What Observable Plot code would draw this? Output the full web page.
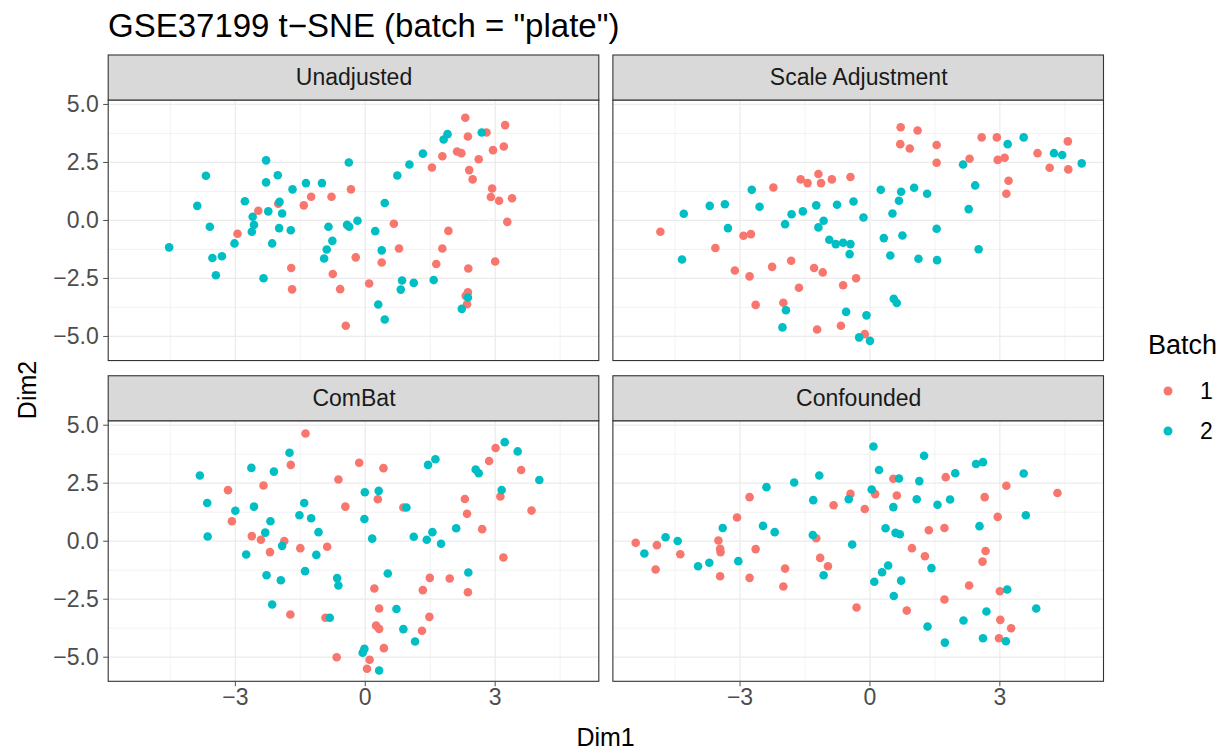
<!DOCTYPE html>
<html><head><meta charset="utf-8">
<script src="https://cdn.jsdelivr.net/npm/d3@7"></script>
<script src="https://cdn.jsdelivr.net/npm/@observablehq/plot@0.6"></script>
<style>
body{margin:0;background:#fff;}
#chart{width:1228px;height:752px;}
</style></head><body><div id="chart"></div>
<script>
// ---- categories / ticks ----
const panels = ["Unadjusted", "Scale Adjustment", "ComBat", "Confounded"];
const batches = ["1", "2"];
const batchColors = ["#F8766D", "#00BFC4"];
const xTicks = [-3, 0, 3];
const xMinor = [-4.5, -1.5, 1.5, 4.5];
const yTicks = [-5, -2.5, 0, 2.5, 5];
const yMinor = [-3.75, -1.25, 1.25, 3.75];

// ---- series values: [Dim1, Dim2] ----
const unadjusted1 = [[-0.33,1.34],[-1.25,1.02],[-0.78,1.02],[-1.42,0.65],[-2.47,0.42],[-2.01,0.72],[-2.95,-0.57],[-1.71,-2.05],[-0.75,-2.31],[-1.69,-2.97],[-0.58,-2.96],[-0.45,-4.54],
 [2.31,4.43],[3.23,4.11],[2.80,3.79],[2.37,3.62],[3.20,3.19],[2.95,3.03],[2.12,2.97],[2.22,2.90],[1.78,2.77],[2.62,2.64],[1.54,2.28],[2.40,2.17],[2.48,1.77],[2.93,1.38],[2.90,1.01],[3.09,0.85],[3.39,0.96],[0.66,-0.14],[3.28,-0.06],[1.92,-0.45],[0.78,-1.21],[1.78,-1.21],[-0.22,-1.59],[0.38,-1.81],[1.64,-1.88],[3.00,-1.77],[2.38,-2.07],[0.09,-2.72],[2.37,-3.10],[2.32,-3.25],[2.35,-3.61]];
const unadjusted2 = [[-2.29,2.59],[-0.38,2.50],[-3.68,1.93],[-2.02,1.95],[-2.29,1.64],[-1.68,1.34],[-1.37,1.61],[-1.00,1.61],[-3.88,0.63],[-2.78,0.83],[-1.98,0.80],[-2.24,0.39],[-1.92,0.30],[-2.60,0.16],[-2.57,-0.19],[-2.62,-0.49],[-3.59,-0.27],[-1.99,-0.33],[-1.72,-0.42],[-0.85,-0.27],[-0.42,-0.19],[-0.37,-0.27],[-3.02,-0.99],[-2.15,-0.99],[-0.76,-0.88],[-0.89,-1.25],[-0.95,-1.64],[-4.53,-1.16],[-3.53,-1.62],[-3.31,-1.54],[-3.45,-2.36],[-2.35,-2.49],
 [2.69,3.79],[1.81,3.49],[1.90,3.72],[1.33,2.88],[1.02,2.41],[0.74,1.94],[0.45,0.75],[-0.18,-0.01],[0.23,-0.46],[0.38,-1.29],[0.85,-2.59],[0.82,-2.98],[1.12,-2.69],[1.58,-2.57],[2.37,-3.32],[2.23,-3.81],[0.30,-3.62],[0.45,-4.27]];

const scaleAdj1 = [[-1.19,2.00],[-1.60,1.77],[-1.44,1.61],[-1.13,1.61],[-0.88,1.77],[-0.45,1.87],[-2.23,1.42],[-4.84,-0.49],[-2.92,-0.66],[-2.75,-0.59],[-3.57,-1.19],[-1.82,-1.74],[-2.26,-2.00],[-3.12,-2.16],[-1.29,-2.05],[-1.09,-2.24],[-2.78,-2.41],[-0.32,-2.49],[-0.62,-2.79],[-1.64,-2.90],[-2.64,-3.64],[-2.00,-3.55],[-1.22,-4.70],[-0.67,-4.54],
 [0.71,4.02],[1.10,3.88],[0.70,3.29],[0.92,3.10],[1.54,3.25],[1.54,2.49],[2.58,3.58],[2.93,3.58],[4.57,3.41],[3.87,2.90],[4.15,2.27],[4.58,2.20],[2.30,2.66],[2.95,2.61],[3.11,2.70],[3.20,1.71],[3.15,1.15],[-0.12,-4.90]];
const scaleAdj2 = [[-2.73,1.32],[-3.70,0.63],[-3.35,0.70],[-2.55,0.59],[-4.30,0.29],[-1.81,0.27],[-1.55,0.39],[-1.24,0.65],[-0.76,0.68],[-0.38,0.82],[-1.96,-0.16],[-1.07,-0.01],[-1.19,-0.30],[-3.28,-0.33],[-0.94,-0.83],[-0.79,-1.02],[-0.62,-0.96],[-0.45,-1.02],[-0.47,-1.45],[-4.34,-1.68],[-1.94,-3.87],[-0.55,-3.94],[-2.02,-4.61],
 [3.18,3.29],[3.55,3.58],[4.25,2.90],[4.44,2.82],[4.89,2.46],[2.15,2.41],[2.43,1.51],[2.28,0.49],[0.25,1.32],[0.72,1.24],[1.02,1.41],[1.32,1.15],[0.67,0.85],[-0.15,0.13],[0.52,0.30],[1.54,-0.36],[0.32,-0.76],[0.75,-0.65],[0.47,-1.51],[1.12,-1.65],[1.55,-1.71],[2.51,-1.24],[0.55,-3.38],[0.62,-3.56],[-0.08,-4.09],[-0.25,-5.04],[0.00,-5.19]];

const combat1 = [[-1.38,4.64],[-1.72,3.29],[-2.35,2.40],[-3.17,2.20],[-0.62,2.66],[-0.46,1.49],[-3.08,0.86],[-2.62,0.22],[-2.41,0.06],[-1.87,0.01],[-1.50,-0.30],[-0.88,-0.24],[-2.20,-0.47],[-1.73,-3.16],[-0.92,-3.30],[-0.66,-5.00],
 [-0.14,3.38],[0.42,3.15],[3.01,4.02],[2.86,3.46],[3.60,3.07],[0.29,1.81],[3.12,1.93],[2.30,1.82],[0.88,1.45],[2.35,1.18],[3.84,1.32],[2.70,0.52],[3.19,-0.70],[1.49,-1.58],[1.95,-1.61],[0.21,-2.04],[1.33,-2.11],[2.37,-2.20],[0.32,-2.90],[1.48,-3.26],[0.25,-3.64],[0.32,-3.78],[1.31,-3.86],[0.43,-4.61],[0.10,-5.11],[0.04,-5.50]];
const combat2 = [[-1.75,3.81],[-2.63,3.16],[-2.11,3.00],[-3.82,2.83],[-3.65,1.65],[-3.00,1.31],[-2.57,1.49],[-1.41,1.65],[-1.52,1.12],[-1.25,0.99],[-2.19,0.86],[-2.31,0.37],[-1.08,0.39],[-3.64,0.20],[-1.92,-0.20],[-2.75,-0.57],[-1.13,-0.59],[-1.39,-1.29],[-2.28,-1.47],[-1.95,-1.68],[-0.65,-1.59],[-0.62,-1.91],[-2.15,-2.73],[-0.82,-3.30],
 [1.45,3.29],[1.62,3.53],[3.22,4.27],[3.52,3.87],[2.55,3.09],[2.62,2.93],[4.02,2.64],[-0.01,2.11],[0.31,2.17],[3.15,2.21],[0.95,1.45],[-0.02,0.96],[2.10,0.56],[0.16,0.11],[1.12,0.19],[1.42,0.06],[1.55,0.39],[1.75,-0.11],[0.52,-1.39],[2.38,-1.35],[0.72,-2.92],[0.88,-3.79],[1.15,-4.32],[-0.02,-4.64],[-0.06,-4.81],[0.32,-5.57]];

const confounded1 = [[-2.78,1.90],[-0.84,1.55],[-0.45,2.04],[-3.07,1.02],[-5.41,-0.07],[-4.92,-0.17],[-4.38,-0.56],[-3.50,0.03],[-3.46,-0.33],[-3.45,-0.47],[-1.24,0.13],[-2.64,-0.34],[-1.15,-0.72],[-0.97,-1.08],[-4.95,-1.22],[-3.46,-1.51],[-2.78,-1.58],[-1.96,-1.18],[-2.00,-1.95],[-0.31,-2.86],
 [0.54,2.69],[1.75,2.76],[3.15,2.39],[4.33,2.08],[0.12,2.03],[-0.12,1.39],[0.62,1.97],[2.65,1.90],[2.95,1.05],[1.36,0.47],[1.72,0.57],[0.97,-0.30],[1.27,-0.65],[2.67,-0.42],[2.60,-0.88],[2.29,-1.91],[3.00,-2.16],[0.85,-2.99],[1.72,-2.51],[3.01,-3.39],[3.26,-3.75],[2.98,-4.18]];
const confounded2 = [[-1.17,2.83],[-1.75,2.53],[-2.39,2.33],[-1.31,1.77],[-0.49,1.81],[-3.40,0.57],[-2.47,0.66],[-2.20,0.39],[-4.72,0.17],[-4.44,0.01],[-5.21,-0.53],[-1.32,0.27],[-0.41,-0.14],[-3.04,-0.86],[-3.97,-1.08],[-3.71,-0.93],[-1.07,-1.47],
 [0.08,4.08],[1.25,3.68],[0.21,3.07],[0.67,2.70],[1.14,2.59],[1.97,2.93],[2.45,3.33],[2.61,3.41],[3.55,2.92],[0.04,2.23],[1.08,1.81],[1.56,1.57],[1.85,1.80],[0.54,1.47],[3.60,1.12],[0.36,0.56],[0.59,0.36],[0.69,0.30],[2.53,0.65],[1.42,-1.16],[0.42,-1.05],[0.28,-1.34],[0.10,-1.75],[0.72,-1.70],[0.55,-2.36],[3.17,-2.08],[2.69,-3.03],[3.84,-2.90],[2.16,-3.42],[1.33,-3.68],[1.73,-4.37],[2.61,-4.18],[3.14,-4.31]];

// ---- build table ----
const series = [
  [panels[0], batches[0], unadjusted1], [panels[1], batches[0], scaleAdj1],
  [panels[2], batches[0], combat1],     [panels[3], batches[0], confounded1],
  [panels[0], batches[1], unadjusted2], [panels[1], batches[1], scaleAdj2],
  [panels[2], batches[1], combat2],     [panels[3], batches[1], confounded2]
];
const rows = [];
for (const [panel, batch, pts] of series) {
  const i = panels.indexOf(panel);
  for (const [x, y] of pts) rows.push({panel, batch, col: i % 2, row: Math.floor(i / 2), x, y});
}
const strips = panels.map((p, i) => ({panel: p, col: i % 2, row: Math.floor(i / 2)}));

// ggplot-like expanded limits
const xDomain = [-5.925, 5.405];
const yDomain = [-6.06, 5.17];
const stripTop = 7.11;
const font = "'Liberation Sans', Arial, Helvetica, sans-serif";

const plot = Plot.plot({
  width: 1228, height: 752,
  marginLeft: 108.2, marginRight: 124.5, marginTop: 55, marginBottom: 70.7,
  style: {fontFamily: font, background: "white", overflow: "visible"},
  x: {domain: xDomain, label: null},
  y: {domain: [yDomain[0], stripTop], label: null},
  fx: {domain: [0, 1], paddingInner: 0.0279, paddingOuter: 0, round: false, axis: null},
  fy: {domain: [0, 1], paddingInner: 0.0474, paddingOuter: 0, round: false, axis: null},
  color: {domain: batches, range: batchColors},
  marks: [
    Plot.ruleY(yMinor, {y: d => d, x1: xDomain[0], x2: xDomain[1], stroke: "#EBEBEB", strokeWidth: 0.6}),
    Plot.ruleX(xMinor, {x: d => d, y1: yDomain[0], y2: yDomain[1], stroke: "#EBEBEB", strokeWidth: 0.6}),
    Plot.ruleY(yTicks, {y: d => d, x1: xDomain[0], x2: xDomain[1], stroke: "#EBEBEB", strokeWidth: 1.2}),
    Plot.ruleX(xTicks, {x: d => d, y1: yDomain[0], y2: yDomain[1], stroke: "#EBEBEB", strokeWidth: 1.2}),
    Plot.dot(rows, {fx: "col", fy: "row", x: "x", y: "y", fill: "batch", r: 4.3}),
    Plot.rect([0], {x1: xDomain[0], x2: xDomain[1], y1: yDomain[0], y2: yDomain[1], fill: "none", stroke: "#333333", strokeWidth: 1.1}),
    Plot.rect([0], {x1: xDomain[0], x2: xDomain[1], y1: yDomain[1], y2: stripTop, fill: "#D9D9D9", stroke: "#333333", strokeWidth: 1.1}),
    Plot.text(strips, {fx: "col", fy: "row", x: (xDomain[0] + xDomain[1]) / 2, y: (yDomain[1] + stripTop) / 2, text: "panel", fontSize: 23, fill: "#1A1A1A"}),
    Plot.axisY(yTicks, {anchor: "left", tickSize: 5, tickPadding: 5, fontSize: 23, color: "#4D4D4D", tickFormat: d3.format(".1f")}),
    Plot.axisX(xTicks, {anchor: "bottom", tickSize: 5, tickPadding: 2, fontSize: 23, color: "#4D4D4D", tickFormat: d3.format("d")})
  ]
});

// titles and legend as real text in the SVG
const svg = d3.select(plot);
svg.append("text").attr("x", 108).attr("y", 37).attr("text-anchor", "start").attr("font-size", 33).attr("fill", "#000")
  .attr("font-family", font).text('GSE37199 t\u2212SNE (batch = "plate")');
svg.append("text").attr("x", 605.6).attr("y", 746).attr("text-anchor", "middle").attr("font-size", 25)
  .attr("fill", "#000").attr("font-family", font).text("Dim1");
svg.append("text").attr("transform", "translate(36,390) rotate(-90)").attr("text-anchor", "middle")
  .attr("font-size", 25).attr("fill", "#000").attr("font-family", font).text("Dim2");
const color = plot.scale("color");
const lg = svg.append("g").attr("font-family", font).attr("text-anchor", "start");
lg.append("text").attr("x", 1148).attr("y", 354).attr("font-size", 27).attr("fill", "#000").text("Batch");
batches.forEach((b, i) => {
  const cy = 391 + i * 40;
  lg.append("circle").attr("cx", 1168).attr("cy", cy).attr("r", 4.5).attr("fill", color.apply(b));
  lg.append("text").attr("x", 1200).attr("y", cy + 8).attr("font-size", 23).attr("fill", "#000").text(b);
});

document.getElementById("chart").appendChild(plot);
</script></body></html>
